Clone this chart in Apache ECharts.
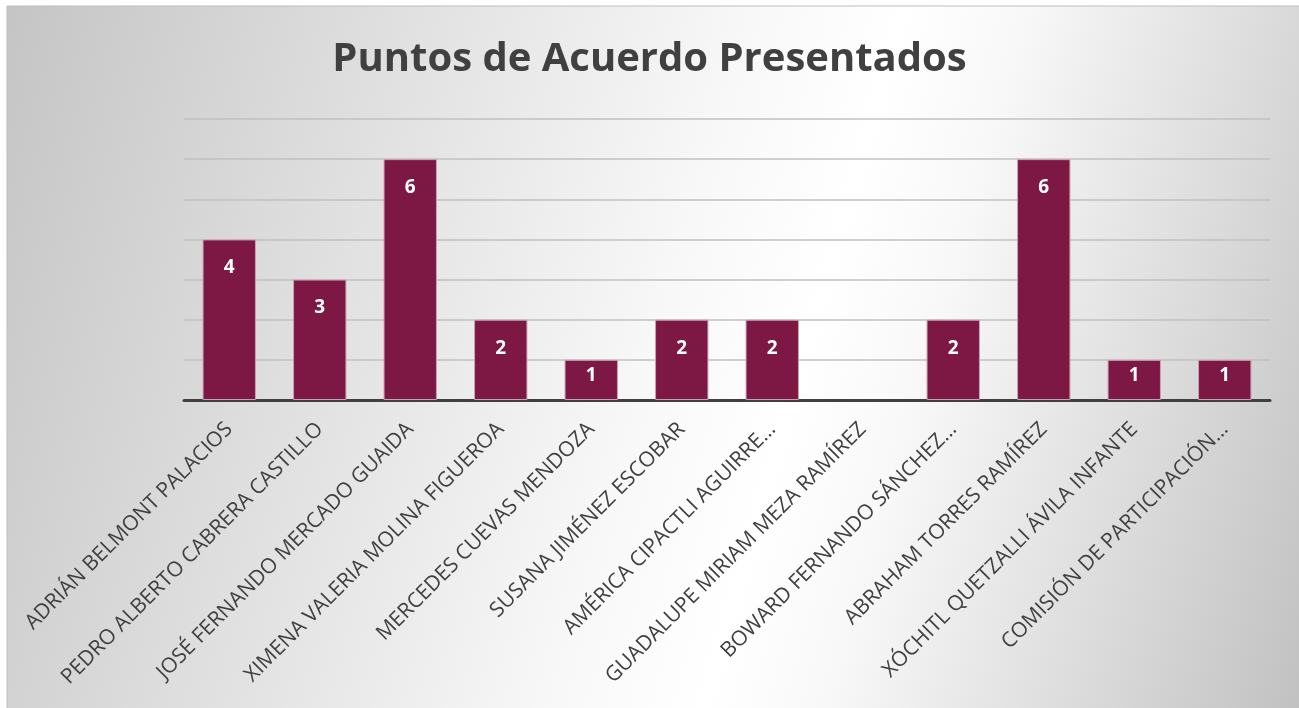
<!DOCTYPE html>
<html>
<head>
<meta charset="utf-8">
<script src="https://cdn.jsdelivr.net/npm/echarts@6/dist/echarts.min.js"></script>
<style>
html,body{margin:0;padding:0;background:#fff;}
#main{width:1299px;height:708px;}
</style>
</head>
<body>
<div id="main"></div>
<script>
var titleText = 'Puntos de Acuerdo Presentados';
var categories = [
  'ADRIÁN BELMONT PALACIOS',
  'PEDRO ALBERTO CABRERA CASTILLO',
  'JOSÉ FERNANDO MERCADO GUAIDA',
  'XIMENA VALERIA MOLINA FIGUEROA',
  'MERCEDES CUEVAS MENDOZA',
  'SUSANA JIMÉNEZ ESCOBAR',
  'AMÉRICA CIPACTLI AGUIRRE…',
  'GUADALUPE MIRIAM MEZA RAMÍREZ',
  'BOWARD FERNANDO SÁNCHEZ…',
  'ABRAHAM TORRES RAMÍREZ',
  'XÓCHITL QUETZALLI ÁVILA INFANTE',
  'COMISIÓN DE PARTICIPACIÓN…'
];
var values = [4, 3, 6, 2, 1, 2, 2, 0, 2, 6, 1, 1];
var yMin = 0, yMax = 7, yStep = 1;

var chart = echarts.init(document.getElementById('main'));
var seriesData = values.map(function (v) {
  return {
    value: v,
    itemStyle: { borderWidth: v > 0 ? 1 : 0 },
    label: { distance: v <= 1 ? 6 : 19, show: v > 0 }
  };
});
chart.setOption({
  animation: false,
  graphic: [{
    type: 'rect',
    z: -10,
    silent: true,
    shape: { x: 7, y: 6, width: 1299, height: 708 },
    style: {
      fill: new echarts.graphic.LinearGradient(-50, 170, 1350, 570, [
        { offset: 0, color: '#c4c4c4' },
        { offset: 0.5, color: '#f8f8f8' },
        { offset: 0.6, color: '#ffffff' },
        { offset: 0.68, color: '#f8f8f8' },
        { offset: 1, color: '#c0c0c0' }
      ], true),
      stroke: '#bdbdbd',
      lineWidth: 1
    }
  }],
  title: {
    text: titleText,
    left: 'center',
    top: 35,
    textStyle: {
      fontFamily: 'Open Sans',
      fontWeight: 'bold',
      fontSize: 40,
      color: '#404040'
    }
  },
  grid: { left: 184, right: 29, top: 119, bottom: 308, containLabel: false },
  xAxis: {
    type: 'category',
    data: categories,
    axisLine: { show: true, lineStyle: { color: '#404040', width: 3 } },
    axisTick: { show: false },
    axisLabel: {
      interval: 0,
      rotate: 45,
      margin: 26,
      fontFamily: 'Open Sans',
      fontSize: 21,
      color: '#404040'
    }
  },
  yAxis: {
    type: 'value',
    min: yMin,
    max: yMax,
    interval: yStep,
    axisLine: { show: false },
    axisTick: { show: false },
    axisLabel: { show: false },
    splitLine: { lineStyle: { color: '#c0c0c0', width: 1.5 } }
  },
  series: [{
    type: 'bar',
    data: seriesData,
    barCategoryGap: '41%',
    itemStyle: { color: '#7d1744', borderColor: '#c9a0b2', borderWidth: 1 },
    label: {
      show: true,
      position: 'insideTop',
      color: '#ffffff',
      fontFamily: 'Open Sans',
      fontWeight: 'bold',
      fontSize: 19,
      formatter: function (p) { return p.value > 0 ? String(p.value) : ''; }
    }
  }]
});
</script>
</body>
</html>
